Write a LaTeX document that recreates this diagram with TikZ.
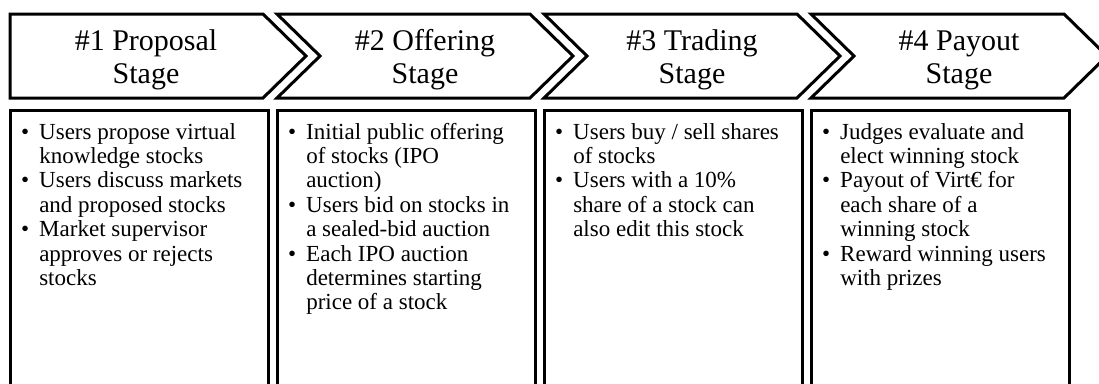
\documentclass[tikz,border=0pt]{standalone}
\usepackage{fontspec}
\setmainfont{Liberation Serif}
\newcommand{\bulletlist}[1]{\begin{tabular}[t]{@{}l@{\hspace{10pt}}l@{}}#1\end{tabular}}
\begin{document}
\begin{tikzpicture}[x=1pt,y=-1pt,
  outline/.style={draw=black, line width=3pt, line join=miter},
  head/.style={font=\fontsize{30}{33}\selectfont, anchor=base, inner sep=0pt},
  body/.style={font=\fontsize{23}{24.4}\selectfont, anchor=base west, inner sep=0pt}]
\useasboundingbox (0,0) rectangle (1099,383);
\clip (0,0) rectangle (1099,383);

% stage chevrons: the first has a flat left side, the others a notch
\draw[outline] (10,14) -- (263,14) -- (306,56) -- (263,98) -- (10,98) -- cycle;
\foreach \x in {277,544,811}{
  \draw[outline] (\x,14) -- (\x+253,14) -- (\x+296,56) -- (\x+253,98)
    -- (\x,98) -- (\x+43,56) -- cycle;
}

% description boxes, running past the lower edge
\foreach \x in {10,277,544,811}{
  \draw[outline] (\x,110) rectangle (\x+258,420);
}

% stage titles
\node[head] (h1) at (146,50) {\begin{tabular}[t]{@{}c@{}}\#1 Proposal\\Stage\end{tabular}};
\node[head] (h2) at (425,50) {\begin{tabular}[t]{@{}c@{}}\#2 Offering\\Stage\end{tabular}};
\node[head] (h3) at (692,50) {\begin{tabular}[t]{@{}c@{}}\#3 Trading\\Stage\end{tabular}};
\node[head] (h4) at (959,50) {\begin{tabular}[t]{@{}c@{}}\#4 Payout\\Stage\end{tabular}};

% stage descriptions
\node[body] (b1) at (21,139) {\bulletlist{%
  \textbullet & Users propose virtual\\
  & knowledge stocks\\
  \textbullet & Users discuss markets\\
  & and proposed stocks\\
  \textbullet & Market supervisor\\
  & approves or rejects\\
  & stocks}};
\node[body] (b2) at (288,139) {\bulletlist{%
  \textbullet & Initial public offering\\
  & of stocks (IPO\\
  & auction)\\
  \textbullet & Users bid on stocks in\\
  & a sealed-bid auction\\
  \textbullet & Each IPO auction\\
  & determines starting\\
  & price of a stock}};
\node[body] (b3) at (555,139) {\bulletlist{%
  \textbullet & Users buy / sell shares\\
  & of stocks\\
  \textbullet & Users with a 10\%\\
  & share of a stock can\\
  & also edit this stock}};
\node[body] (b4) at (822,139) {\bulletlist{%
  \textbullet & Judges evaluate and\\
  & elect winning stock\\
  \textbullet & Payout of Virt€ for\\
  & each share of a\\
  & winning stock\\
  \textbullet & Reward winning users\\
  & with prizes}};
\end{tikzpicture}
\end{document}
